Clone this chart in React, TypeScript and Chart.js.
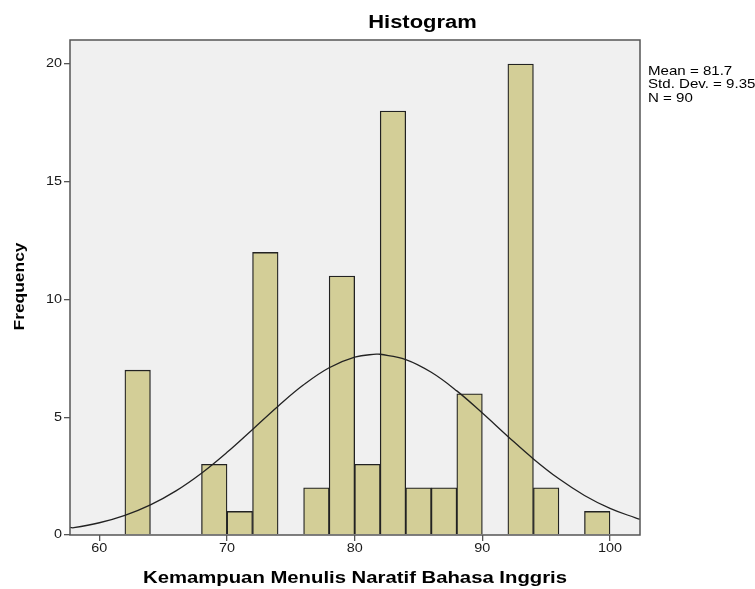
import React, { useEffect, useRef } from "react";
import { Chart, registerables } from "chart.js";

Chart.register(...registerables);

const binCenters = [63, 69, 71, 73, 77, 79, 81, 83, 85, 87, 89, 93, 95, 99];
const binCounts = [7, 3, 1, 12, 2, 11, 3, 18, 2, 2, 6, 20, 2, 1];
const curveX = [57.7, 58, 60, 62, 64, 66, 68, 70, 72, 74, 76, 78, 80, 81.7, 82, 84, 86, 88, 90, 92, 94, 96, 98, 100, 102, 102.35];
const curveY = [0.32, 0.309, 0.52, 0.835, 1.28, 1.875, 2.625, 3.51, 4.484, 5.471, 6.377, 7.102, 7.554, 7.68, 7.676, 7.451, 6.91, 6.12, 5.179, 4.187, 3.232, 2.385, 1.68, 1.131, 0.727, 0.67];
const xTicks = [60, 70, 80, 90, 100];
const yTicks = [0, 5, 10, 15, 20];
const statsLines = ["Mean = 81.7", "Std. Dev. = 9.35", "N = 90"];
const titleText = "Histogram";
const xTitle = "Kemampuan Menulis Naratif Bahasa Inggris";
const yTitle = "Frequency";

const FONT = "'Liberation Sans', Arial, sans-serif";
const STRETCH = 1.2;

function stretchedText(ctx: any, text: string, x: number, y: number, align: string, sx: number) {
  ctx.save();
  ctx.translate(x, y);
  ctx.scale(sx, 1);
  ctx.textAlign = align;
  ctx.fillText(text, 0, 0);
  ctx.restore();
}

export default function App() {
  const ref = useRef<HTMLCanvasElement | null>(null);
  useEffect(() => {
    if (!ref.current) return;
    const decor = {
      id: "decor",
      beforeDatasetsDraw(chart: any) {
        const { ctx, chartArea: a } = chart;
        ctx.save();
        ctx.fillStyle = "#f0f0f0";
        ctx.fillRect(a.left, a.top, a.right - a.left, a.bottom - a.top);
        ctx.restore();
      },
      afterDraw(chart: any) {
        const { ctx, chartArea: a } = chart;
        const xs = chart.scales.x;
        const ys = chart.scales.y;
        ctx.save();
        ctx.strokeStyle = "#555555";
        ctx.lineWidth = 1.5;
        ctx.strokeRect(a.left, a.top, a.right - a.left, a.bottom - a.top);
        ctx.fillStyle = "#1a1a1a";
        ctx.textBaseline = "middle";
        ctx.font = "12px " + FONT;
        xTicks.forEach((v) => stretchedText(ctx, String(v), xs.getPixelForValue(v), 549, "center", STRETCH));
        yTicks.forEach((v) => stretchedText(ctx, String(v), 62, ys.getPixelForValue(v), "right", STRETCH));
        ctx.fillStyle = "#000";
        ctx.font = "bold 18px " + FONT;
        stretchedText(ctx, titleText, 422.5, 23, "center", 1.22);
        ctx.font = "bold 16.5px " + FONT;
        stretchedText(ctx, xTitle, 355, 578, "center", 1.23);
        ctx.save();
        ctx.translate(20, 286.5);
        ctx.rotate(-Math.PI / 2);
        ctx.font = "bold 15px " + FONT;
        stretchedText(ctx, yTitle, 0, 0, "center", 1.16);
        ctx.restore();
        ctx.font = "13px " + FONT;
        statsLines.forEach((s, i) => stretchedText(ctx, s, 648, 71 + i * 13.5, "left", 1.16));
        ctx.restore();
      },
    };
    const chart = new Chart(ref.current, {
      type: "bar",
      data: {
        datasets: [
          {
            type: "line",
            data: curveX.map((x, i) => ({ x, y: curveY[i] })),
            borderColor: "#222222",
            borderWidth: 1.3,
            pointRadius: 0,
            tension: 0.4,
            fill: false,
            order: 0,
          } as any,
          {
            type: "bar",
            data: binCenters.map((x, i) => ({ x, y: binCounts[i] })),
            backgroundColor: "#d3ce97",
            borderColor: "#222222",
            borderWidth: 1.3,
            barPercentage: 1,
            categoryPercentage: 1,
            order: 1,
          } as any,
        ],
      },
      options: {
        animation: false,
        responsive: false,
        maintainAspectRatio: false,
        layout: { padding: { left: 0, top: 40, right: 115, bottom: 0 } },
        plugins: { legend: { display: false }, tooltip: { enabled: false }, title: { display: false } },
        scales: {
          x: {
            type: "linear",
            offset: false,
            min: 57.7,
            max: 102.35,
            afterBuildTicks: (s: any) => {
              s.ticks = xTicks.map((v) => ({ value: v }));
            },
            afterFit: (s: any) => {
              s.height = 54;
            },
            grid: { offset: false, drawOnChartArea: false, tickLength: 6, color: "#555555", lineWidth: 1.3 },
            border: { display: false },
            ticks: { color: "rgba(0,0,0,0)", font: { family: FONT, size: 12 }, padding: 3, maxRotation: 0, autoSkip: false },
          },
          y: {
            type: "linear",
            min: 0,
            max: 21.02,
            afterBuildTicks: (s: any) => {
              s.ticks = yTicks.map((v) => ({ value: v }));
            },
            afterFit: (s: any) => {
              s.width = 70;
            },
            grid: { drawOnChartArea: false, tickLength: 6, color: "#555555", lineWidth: 1.3 },
            border: { display: false },
            ticks: { color: "rgba(0,0,0,0)", font: { family: FONT, size: 12 }, padding: 2 },
          },
        },
      } as any,
      plugins: [decor],
    });
    return () => chart.destroy();
  }, []);
  return (
    <div style={{ position: "absolute", left: 0, top: 0, width: 755, height: 589, background: "#fff" }}>
      <canvas ref={ref} width={755} height={589} style={{ display: "block" }} />
    </div>
  );
}
